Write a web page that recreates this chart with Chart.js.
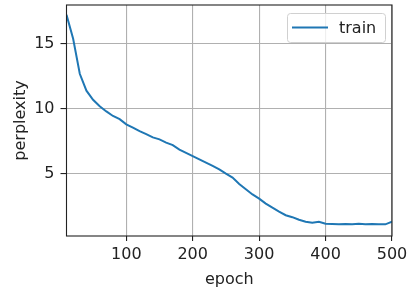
<!DOCTYPE html>
<html>
<head>
<meta charset="utf-8">
<script src="https://cdn.jsdelivr.net/npm/chart.js@4.4.0/dist/chart.umd.min.js"></script>
<style>
  html, body { margin: 0; padding: 0; background: #fff; }
  #wrap { width: 417px; height: 295px; }
</style>
</head>
<body>
<div id="wrap"><canvas id="chart" width="417" height="295"></canvas></div>
<script>
// data
const epochs = [10, 20, 30, 40, 50, 60, 70, 80, 90, 100,
    110, 120, 130, 140, 150, 160, 170, 180, 190, 200,
    210, 220, 230, 240, 250, 260, 270, 280, 290, 300,
    310, 320, 330, 340, 350, 360, 370, 380, 390, 400,
    410, 420, 430, 440, 450, 460, 470, 480, 490, 500];
const trainPerplexity = [17.25, 15.4, 12.7, 11.4, 10.7, 10.2, 9.8, 9.45, 9.2, 8.8,
    8.55, 8.28, 8.05, 7.8, 7.65, 7.4, 7.2, 6.85, 6.6, 6.35,
    6.1, 5.85, 5.6, 5.33, 5.0, 4.7, 4.2, 3.8, 3.4, 3.08,
    2.7, 2.38, 2.08, 1.8, 1.65, 1.45, 1.3, 1.22, 1.3, 1.15,
    1.12, 1.1, 1.12, 1.1, 1.15, 1.1, 1.12, 1.1, 1.1, 1.3];
const xTicks = [100, 200, 300, 400, 500];
const yTicks = [5, 10, 15];

const FONT = 'DejaVu Sans';
const LINE_COLOR = '#1f77b4';

// frame on all four sides + matplotlib style legend box
const framePlugin = {
    id: 'frame',
    afterDraw(chart) {
        const { ctx, chartArea: a } = chart;
        ctx.save();
        ctx.strokeStyle = '#222';
        ctx.lineWidth = 1.1;
        ctx.strokeRect(a.left, a.top, a.right - a.left, a.bottom - a.top);

        // legend
        const ds = chart.data.datasets[0];
        const w = 98, h = 29;
        const x = a.right - 7 - w, y = a.top + 8;
        ctx.fillStyle = 'rgba(255,255,255,0.8)';
        ctx.strokeStyle = '#d0d0d0';
        ctx.lineWidth = 1;
        ctx.beginPath();
        ctx.roundRect(x + 0.5, y + 0.5, w, h, 3);
        ctx.fill();
        ctx.stroke();
        ctx.strokeStyle = ds.borderColor;
        ctx.lineWidth = 2;
        ctx.beginPath();
        ctx.moveTo(x + 5, y + h / 2);
        ctx.lineTo(x + 41, y + h / 2);
        ctx.stroke();
        ctx.fillStyle = '#222';
        ctx.font = '16px ' + FONT;
        ctx.textBaseline = 'middle';
        ctx.fillText(ds.label, x + 52, y + h / 2 + 1);
        ctx.restore();
    }
};

new Chart(document.getElementById('chart'), {
    type: 'line',
    data: {
        labels: epochs,
        datasets: [{
            label: 'train',
            data: trainPerplexity,
            borderColor: LINE_COLOR,
            borderWidth: 2,
            pointRadius: 0,
            tension: 0,
            fill: false
        }]
    },
    options: {
        responsive: false,
        animation: false,
        layout: { padding: { left: 0, right: 25, top: 5, bottom: 0 } },
        plugins: {
            legend: { display: false },
            tooltip: { enabled: false }
        },
        scales: {
            x: {
                type: 'linear',
                min: 10,
                max: 500,
                afterBuildTicks(scale) { scale.ticks = xTicks.map(v => ({ value: v })); },
                afterFit(scale) {
                    scale.height = 59;
                    scale.paddingLeft = 0;
                    scale.paddingRight = 0;
                },
                grid: { color: '#b0b0b0', lineWidth: 1.1, tickColor: '#222', tickLength: 5 },
                border: { display: false },
                ticks: { color: '#222', font: { family: FONT, size: 16 }, padding: 4, maxRotation: 0 },
                title: { display: true, text: 'epoch', color: '#222', font: { family: FONT, size: 16 }, padding: { top: 0, bottom: 6 } }
            },
            y: {
                type: 'linear',
                min: 0.2,
                max: 18,
                afterBuildTicks(scale) { scale.ticks = yTicks.map(v => ({ value: v })); },
                afterFit(scale) {
                    scale.width = 66.5;
                    scale.paddingTop = 0;
                    scale.paddingBottom = 0;
                },
                grid: { color: '#b0b0b0', lineWidth: 1.1, tickColor: '#222', tickLength: 6 },
                border: { display: false },
                ticks: { color: '#222', font: { family: FONT, size: 16 }, padding: 6 },
                title: { display: true, text: 'perplexity', color: '#222', font: { family: FONT, size: 16 }, padding: { top: 11, bottom: 0 } }
            }
        }
    },
    plugins: [framePlugin]
});
</script>
</body>
</html>
